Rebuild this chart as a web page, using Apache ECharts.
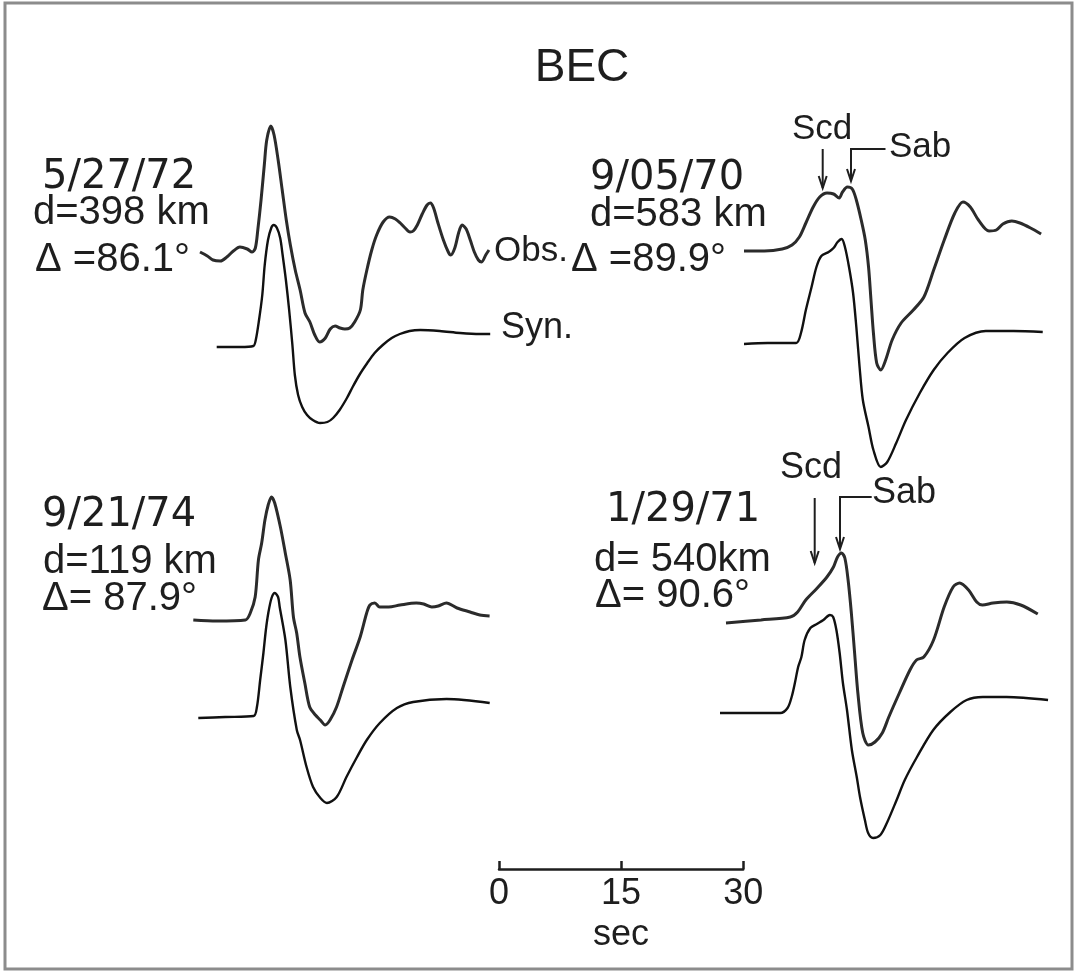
<!DOCTYPE html>
<html>
<head>
<meta charset="utf-8">
<script src="https://cdn.jsdelivr.net/npm/echarts@6/dist/echarts.min.js"></script>
<style>
html,body{margin:0;padding:0;background:#fff;}
#c{width:1079px;height:975px;}
</style>
</head>
<body>
<div id="c"></div>
<script>
// ---- DATA: [time (s) since trace start, amplitude (arbitrary units, + up)] ----
const P1_OBS = [[0,0],[0.9,-0.4],[1.6,-0.8],[2.5,-0.9],[3.3,-0.5],[4.1,0.1],[4.9,0.5],[5.8,0.3],[6.4,0.0],[6.8,0.4],[7.1,2.2],[7.5,5.2],[7.9,8.7],[8.2,11.2],[8.7,12.6],[9.1,11.7],[9.6,9.2],[10.1,6.2],[10.6,3.2],[11.1,0.7],[11.7,-1.8],[12.3,-3.8],[12.9,-6.1],[13.5,-7.0],[14.1,-8.3],[14.7,-9.0],[15.4,-8.6],[16.0,-7.7],[16.6,-7.4],[17.2,-7.6],[17.8,-7.7],[18.4,-7.6],[19.0,-7.0],[19.7,-5.8],[20.0,-3.8],[20.5,-1.8],[21.1,0.2],[21.7,1.7],[22.5,3.0],[23.3,3.5],[24.0,3.3],[24.6,2.9],[25.2,2.4],[25.8,2.0],[26.2,2.1],[26.7,2.7],[27.3,3.8],[27.9,4.7],[28.3,4.9],[28.7,4.4],[29.2,3.0],[29.9,1.2],[30.5,0.0],[30.8,-0.3],[31.3,0.4],[31.8,2.0],[32.2,2.7],[32.7,2.3],[33.2,1.2],[33.7,0.0],[34.2,-0.8],[34.6,-1.0],[35.1,-0.3],[35.5,0.2]];
const P1_SYN = [[0,0],[2.9,0],[4.5,0.1],[4.8,0.7],[5.2,2.7],[5.6,5.2],[5.9,8.2],[6.3,10.7],[6.7,11.9],[7.0,12.2],[7.4,11.9],[7.8,10.9],[8.1,9.2],[8.5,6.7],[8.9,3.7],[9.3,0.2],[9.6,-2.8],[10.0,-4.8],[10.5,-6.0],[11.1,-6.8],[11.8,-7.3],[12.7,-7.6],[13.6,-7.5],[14.3,-7.1],[15.1,-6.3],[16.0,-5.1],[16.7,-4.0],[17.6,-2.7],[18.5,-1.6],[19.4,-0.6],[20.4,0.2],[21.5,0.9],[22.5,1.3],[23.7,1.6],[25.0,1.7],[27.4,1.6],[29.9,1.4],[32.3,1.3],[33.6,1.3]];
const P2_OBS = [[0,0],[2.5,0],[4.7,0.2],[5.9,0.6],[6.8,1.4],[7.6,2.8],[8.5,4.4],[9.3,5.4],[10.2,5.8],[11.0,5.7],[11.7,5.3],[12.1,5.9],[12.7,6.4],[13.3,6.2],[13.8,5.1],[14.4,3.1],[14.9,1.1],[15.3,-1.6],[15.6,-4.9],[15.9,-8.2],[16.3,-11.2],[16.8,-11.9],[17.4,-10.9],[18.2,-8.9],[19.3,-7.2],[20.8,-5.9],[22.1,-4.6],[23.3,-1.9],[24.6,1.1],[25.9,3.8],[26.9,4.9],[27.8,4.4],[28.8,3.1],[30.1,2.0],[31.0,2.1],[31.8,2.7],[32.9,3.0],[33.9,2.8],[35.2,2.3],[36.5,1.7]];
const P2_SYN = [[0,-0.1],[2.9,0],[6.4,0],[7.0,1.0],[7.6,3.3],[8.3,5.6],[8.9,7.6],[9.5,8.7],[10.4,9.1],[11.0,9.5],[11.5,10.1],[12.0,10.4],[12.4,9.6],[12.9,7.6],[13.4,5.0],[13.8,1.6],[14.2,-2.4],[14.6,-5.7],[15.3,-8.4],[15.9,-10.7],[16.8,-12.4],[17.6,-11.9],[18.7,-10.0],[19.9,-7.7],[21.6,-5.0],[23.3,-2.7],[25.0,-1.0],[27.1,0.5],[29.7,1.2],[33.1,1.2],[36.7,1.1]];
const P3_OBS = [[0,0],[2.9,-0.1],[6.4,0],[7.0,0.7],[7.6,2.3],[8.0,6.0],[8.4,7.7],[8.8,10.0],[9.2,11.5],[9.6,12.3],[10.0,11.7],[10.7,9.3],[11.3,6.7],[11.9,4.0],[12.3,0.3],[12.7,-1.3],[13.1,-3.7],[13.7,-6.3],[14.3,-8.7],[15.0,-9.5],[15.6,-10.0],[16.2,-10.5],[16.8,-10.0],[17.6,-8.7],[18.4,-6.7],[19.5,-4.0],[20.5,-1.7],[21.3,0.7],[21.7,1.5],[22.3,1.7],[22.9,1.3],[24.0,1.3],[25.4,1.5],[27.4,1.7],[28.3,1.6],[29.3,1.3],[30.1,1.4],[31.1,1.7],[32.4,1.2],[34.0,0.8],[35.2,0.5],[36.4,0.4]];
const P3_SYN = [[0,-0.1],[3.3,0],[6.8,0.1],[7.2,1.0],[7.6,3.7],[8.0,6.4],[8.3,8.7],[8.6,10.4],[9.0,11.9],[9.4,12.4],[9.8,12.0],[10.0,11.0],[10.7,7.7],[11.3,3.0],[12.1,-1.3],[12.5,-2.3],[13.3,-5.0],[14.1,-7.0],[15.0,-8.1],[15.8,-8.6],[17.0,-8.0],[18.2,-6.0],[19.5,-4.0],[20.7,-2.3],[22.3,-0.6],[24.4,0.9],[26.4,1.5],[30.5,1.8],[35.8,1.4]];
const P4_OBS = [[0,-0.1],[4.3,0.2],[7.9,0.5],[8.8,1.0],[9.8,2.2],[11.1,3.3],[12.4,4.5],[13.2,5.5],[13.7,6.5],[14.2,6.9],[14.6,6.4],[15.0,4.2],[15.4,0.9],[15.8,-3.1],[16.2,-7.1],[16.8,-11.1],[17.5,-12.3],[18.3,-12.0],[19.2,-11.1],[20.0,-9.5],[21.3,-7.1],[22.6,-4.8],[23.4,-3.8],[24.3,-3.5],[25.5,-1.8],[26.8,1.5],[27.9,3.5],[28.7,3.9],[29.8,3.2],[30.8,2.0],[31.5,1.7],[32.8,1.9],[34.5,2.0],[36.2,1.7],[38.3,0.8]];
const P4_SYN = [[0,0],[3.7,0],[7.4,0],[8.3,0.5],[8.8,1.6],[9.2,3.0],[9.6,4.6],[10.0,5.6],[10.4,7.3],[11.1,8.5],[11.9,8.9],[12.7,9.3],[13.5,9.8],[13.9,9.6],[14.3,8.3],[14.7,6.0],[15.1,3.0],[15.6,0.3],[16.2,-3.7],[16.8,-6.4],[17.2,-8.4],[17.8,-10.7],[18.2,-12.0],[18.8,-12.5],[19.7,-12.2],[20.5,-11.0],[21.7,-8.7],[22.7,-6.7],[24.2,-4.4],[26.2,-1.7],[28.3,0.1],[30.3,1.3],[32.3,1.6],[35.2,1.6],[40.3,1.3]];

const SCALE_TICKS = [0, 15, 30];
const TITLE = 'BEC';
const PANEL_TEXT = [
  ['5/27/72', 'd=398 km', '\u0394 =86.1\u00b0'],
  ['9/05/70', 'd=583 km', '\u0394 =89.9\u00b0'],
  ['9/21/74', 'd=119 km', '\u0394= 87.9\u00b0'],
  ['1/29/71', 'd= 540km', '\u0394= 90.6\u00b0']
];

// ---- LAYOUT ----
const PX_S = 8.14;   // px per second
const PX_U = 10;     // px per amplitude unit
const traces = [
  {data: P1_OBS, left: 200,   base: 252, obs: true},
  {data: P1_SYN, left: 216.7, base: 347, obs: false},
  {data: P2_OBS, left: 744,   base: 251, obs: true},
  {data: P2_SYN, left: 744,   base: 343, obs: false},
  {data: P3_OBS, left: 193.3, base: 620, obs: true},
  {data: P3_SYN, left: 198.3, base: 717, obs: false},
  {data: P4_OBS, left: 726,   base: 622, obs: true},
  {data: P4_SYN, left: 720,   base: 713, obs: false}
];

const INK = '#1e1e1e';
const FONT = '"Liberation Sans", Arial, sans-serif';
const FONT_D = '"DejaVu Sans", sans-serif';

const grid = [], xAxis = [], yAxis = [], series = [];
traces.forEach((tr, i) => {
  const ts = tr.data.map(d => d[0]), as = tr.data.map(d => d[1]);
  const tmax = Math.ceil(Math.max(...ts));
  const ymax = Math.ceil(Math.max(...as)) + 1, ymin = Math.floor(Math.min(...as)) - 1;
  grid.push({left: tr.left, top: tr.base - ymax * PX_U, width: tmax * PX_S, height: (ymax - ymin) * PX_U, containLabel: false});
  xAxis.push({type: 'value', gridIndex: i, min: 0, max: tmax, show: false});
  yAxis.push({type: 'value', gridIndex: i, min: ymin, max: ymax, show: false});
  series.push({
    type: 'line', xAxisIndex: i, yAxisIndex: i, data: tr.data,
    showSymbol: false, smooth: 0.3, clip: false, silent: true,
    lineStyle: {color: tr.obs ? '#2b2b2b' : '#111', width: tr.obs ? 3 : 2.4}
  });
});

// time scale bar as a real axis
const sb = traces.length;
grid.push({left: 499, top: 868, width: SCALE_TICKS[2] * PX_S, height: 1, containLabel: false});
xAxis.push({
  type: 'value', gridIndex: sb, min: SCALE_TICKS[0], max: SCALE_TICKS[2], interval: SCALE_TICKS[1] - SCALE_TICKS[0],
  axisLine: {show: true, lineStyle: {color: INK, width: 2.5}},
  axisTick: {show: true, inside: true, length: 8, lineStyle: {color: INK, width: 2.5}},
  axisLabel: {show: true, color: INK, fontSize: 36, fontFamily: FONT, margin: 7},
  splitLine: {show: false},
  name: 'sec', nameLocation: 'middle', nameGap: 48,
  nameTextStyle: {color: INK, fontSize: 36, fontFamily: FONT}
});
yAxis.push({type: 'value', gridIndex: sb, show: false});

// ---- ANNOTATIONS ----
function txt(s, x, y, size, fam, align) {
  return {type: 'text', x: x, y: y, style: {text: s, fill: INK, font: size + 'px ' + (fam || FONT), textAlign: align || 'left', textVerticalAlign: 'middle'}};
}
function pline(pts, w) {
  return {type: 'polyline', shape: {points: pts}, style: {stroke: INK, lineWidth: w || 2, fill: null}};
}
function arrowDown(x, y1, y2) {
  return [pline([[x, y1], [x, y2]], 2), pline([[x - 4, y2 - 12], [x, y2], [x + 4, y2 - 12]], 2)];
}
const panelPos = [
  [[42, 178], [33, 213], [35, 260]],
  [[590, 179], [590, 215], [571, 260]],
  [[42, 516], [43, 562], [42, 599]],
  [[606, 511], [594, 560], [595, 596]]
];
const graphic = [
  {type: 'rect', shape: {x: 5, y: 3, width: 1067, height: 966}, style: {stroke: '#8c8c8c', lineWidth: 3, fill: null}},
  txt(TITLE, 582, 68, 46, FONT, 'center'),
  txt('Obs.', 494, 251, 35),
  txt('Syn.', 501, 328, 36)
];
PANEL_TEXT.forEach((lines, p) => {
  lines.forEach((s, k) => {
    graphic.push(txt(s, panelPos[p][k][0], panelPos[p][k][1], 40, k === 0 ? FONT_D : FONT));
  });
});
// Scd / Sab markers
graphic.push(txt('Scd', 792, 129, 35));
graphic.push(txt('Sab', 889, 147, 35));
graphic.push(...arrowDown(822.7, 149, 188));
graphic.push(pline([[885.5, 149], [851, 149], [851, 181]], 2), pline([[847, 169], [851, 181], [855, 169]], 2));
graphic.push(txt('Scd', 780, 468, 36));
graphic.push(txt('Sab', 872, 493, 36));
graphic.push(...arrowDown(814.7, 498, 563));
graphic.push(pline([[871.7, 497], [840, 497], [840, 549]], 2), pline([[836, 537], [840, 549], [844, 537]], 2));

const chart = echarts.init(document.getElementById('c'), null, {renderer: 'canvas'});
chart.setOption({
  backgroundColor: '#fff',
  animation: false,
  grid: grid, xAxis: xAxis, yAxis: yAxis, series: series,
  graphic: graphic
});
</script>
</body>
</html>
